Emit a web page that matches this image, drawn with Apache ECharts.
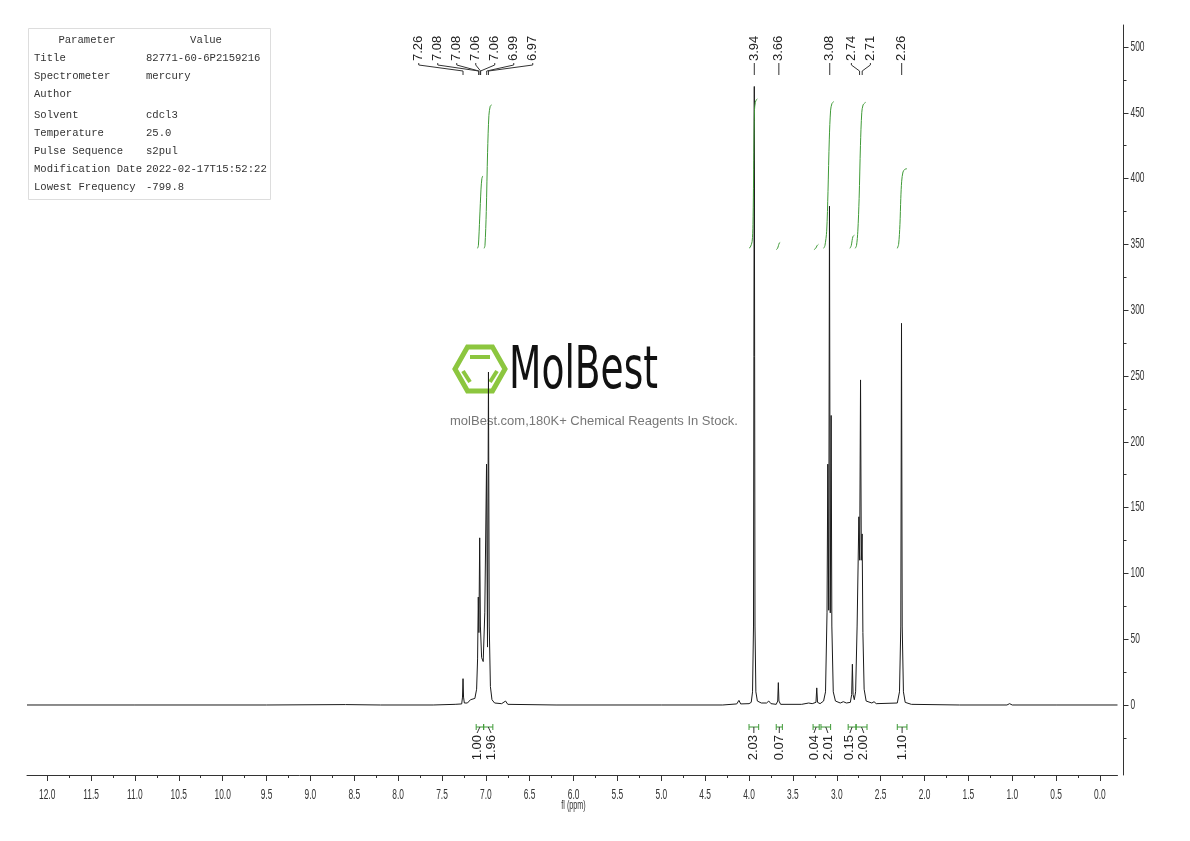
<!DOCTYPE html>
<html><head><meta charset="utf-8">
<script src="https://cdn.jsdelivr.net/npm/echarts@6/dist/echarts.min.js"></script>
<style>html,body{margin:0;padding:0;background:#fff}#c{width:1190px;height:841px}</style>
</head><body><div id="c"></div>
<script>
// ---------------- data ----------------
const spectrum = [
 [12.23,0],[11.0,0],[9.5,0],[8.6,0.3],[8.2,0],[7.6,0],[7.35,0.5],
 [7.275,0.8],[7.266,6],[7.26,20],[7.254,6],[7.245,1.5],
 [7.21,1.5],[7.175,4],[7.155,2.5],[7.125,5],
 [7.105,12],[7.094,35],[7.086,82],[7.079,55],[7.07,127],[7.062,60],[7.048,36],[7.03,33],
 [7.012,70],[6.992,183],[6.981,44],[6.97,253],[6.961,60],[6.948,14],[6.93,4],[6.9,1.5],[6.82,1],[6.775,3],[6.75,0.5],
 [6.2,0],[5.0,0],[4.3,0],[4.14,0.8],[4.115,3.5],[4.095,0.8],
 [4.0,1],[3.975,2],[3.96,10],[3.949,60],[3.94,470],[3.932,60],[3.922,10],[3.905,3],[3.86,1.5],[3.8,1.5],[3.775,3],[3.75,1],
 [3.69,0.5],[3.673,3],[3.666,17],[3.659,3],[3.64,0.5],
 [3.4,0.5],[3.32,1.5],[3.28,1],
 [3.237,2],[3.228,13],[3.219,2],[3.19,1],[3.15,3],
 [3.128,10],[3.111,70],[3.102,183],[3.092,72],[3.083,379],[3.074,70],[3.064,220],[3.056,60],[3.04,10],[3.015,3],
 [2.96,1.5],[2.925,2.5],[2.89,1.5],
 [2.845,2],[2.83,8],[2.822,31],[2.814,8],[2.8,4],[2.785,10],
 [2.768,60],[2.748,143],[2.739,110],[2.729,247],[2.72,110],[2.711,130],[2.702,55],[2.688,12],[2.665,3],[2.6,1.5],[2.575,2.5],[2.55,1],
 [2.31,1.5],[2.285,10],[2.27,60],[2.262,290],[2.254,60],[2.24,10],[2.22,2],[2.15,0.5],
 [1.6,0],[1.06,0],[1.03,1],[1.0,0],[0.5,0],[-0.2,0]
];

const peakLabels = [7.26, 7.08, 7.08, 7.06, 7.06, 6.99, 6.97, 3.94, 3.66, 3.08, 2.74, 2.71, 2.26];

const integralValues = ['1.00','1.96','2.03','0.07','0.04','2.01','0.15','2.00','1.10'];
const integralRanges = [[7.11,7.025],[7.025,6.92],[4.00,3.89],[3.69,3.62],[3.27,3.20],[3.18,3.07],[2.87,2.78],[2.78,2.655],[2.31,2.20]];

const integralCurves = [
 [[7.095,347],[7.085,349],[7.07,370],[7.055,392],[7.045,400],[7.035,402]],
 [[7.02,347],[7.01,349],[6.995,375],[6.98,420],[6.965,448],[6.95,455],[6.935,456]],
 [[4.0,347],[3.985,348],[3.965,352],[3.955,365],[3.945,420],[3.938,452],[3.928,458],[3.915,460],[3.905,460.5]],
 [[3.69,346],[3.675,347],[3.665,349],[3.655,351],[3.645,351.5]],
 [[3.26,346],[3.24,347],[3.225,349],[3.21,350]],
 [[3.15,347],[3.135,349],[3.115,360],[3.1,390],[3.085,430],[3.07,452],[3.055,457],[3.035,458.5]],
 [[2.85,347],[2.835,349],[2.825,353],[2.815,356],[2.80,357]],
 [[2.79,347],[2.775,349],[2.76,360],[2.745,385],[2.73,425],[2.715,450],[2.7,456],[2.67,458]],
 [[2.31,347],[2.295,350],[2.28,365],[2.27,385],[2.26,398],[2.245,405],[2.225,407],[2.2,407.5]]
];

const xTicks = [0,0.5,1,1.5,2,2.5,3,3.5,4,4.5,5,5.5,6,6.5,7,7.5,8,8.5,9,9.5,10,10.5,11,11.5,12];
const xTickLabels = ['0.0','0.5','1.0','1.5','2.0','2.5','3.0','3.5','4.0','4.5','5.0','5.5','6.0','6.5','7.0','7.5','8.0','8.5','9.0','9.5','10.0','10.5','11.0','11.5','12.0'];
const xMinorTicks = [0.25,0.75,1.25,1.75,2.25,2.75,3.25,3.75,4.25,4.75,5.25,5.75,6.25,6.75,7.25,7.75,8.25,8.75,9.25,9.75,10.25,10.75,11.25,11.75,12.25];
const yTicks = [0,50,100,150,200,250,300,350,400,450,500];
const yTickLabels = ['0','50','100','150','200','250','300','350','400','450','500'];
const yMinorTicks = [-25,25,75,125,175,225,275,325,375,425,475];

const paramNames = ['Title','Spectrometer','Author','Solvent','Temperature','Pulse Sequence','Modification Date','Lowest Frequency'];
const paramValues = ['82771-60-6P2159216','mercury','','cdcl3','25.0','s2pul','2022-02-17T15:52:22','-799.8'];

// ---------------- chart ----------------
const GREEN = '#3f9a37';
const AX = '#333';
const X_MIN = -0.2, X_MAX = 12.23, Y_MIN = -53.2, Y_MAX = 516.7;

const chart = echarts.init(document.getElementById('c'), null, {renderer: 'canvas'});

const series = [{
  type: 'line', data: spectrum, showSymbol: false, silent: true, animation: false,
  lineStyle: {color: '#1a1a1a', width: 1}, z: 3, xAxisIndex: 0, yAxisIndex: 0
}];
integralCurves.forEach(c => series.push({
  type: 'line', data: c, showSymbol: false, silent: true, animation: false, smooth: 0.3,
  lineStyle: {color: GREEN, width: 1}, z: 4, xAxisIndex: 0, yAxisIndex: 0
}));

const option = {
  animation: false,
  grid: {left: 27, right: 72.5, top: 25, bottom: 66},
  xAxis: [{
    type: 'value', min: X_MIN, max: X_MAX, inverse: true, position: 'bottom',
    axisLine: {show: true, onZero: false, lineStyle: {color: AX, width: 1}},
    axisTick: {show: true, inside: false, length: 6, customValues: xTicks, lineStyle: {color: AX}},
    axisLabel: {show: false},
    splitLine: {show: false}
  }, {
    type: 'value', min: X_MIN, max: X_MAX, inverse: true, position: 'bottom',
    axisLine: {show: false, onZero: false},
    axisTick: {show: true, inside: false, length: 3, customValues: xMinorTicks, lineStyle: {color: AX}},
    axisLabel: {show: false}, splitLine: {show: false}
  }],
  yAxis: [{
    type: 'value', min: Y_MIN, max: Y_MAX, position: 'right', offset: 6,
    axisLine: {show: true, onZero: false, lineStyle: {color: AX, width: 1}},
    axisTick: {show: true, inside: false, length: 5, customValues: yTicks, lineStyle: {color: AX}},
    axisLabel: {show: false},
    splitLine: {show: false}
  }, {
    type: 'value', min: Y_MIN, max: Y_MAX, position: 'right', offset: 6,
    axisLine: {show: false, onZero: false},
    axisTick: {show: true, inside: false, length: 3, customValues: yMinorTicks, lineStyle: {color: AX}},
    axisLabel: {show: false}, splitLine: {show: false}
  }],
  series: series
};
chart.setOption(option);

// ---------------- annotations (positioned through the axes) ----------------
function px(ppm, v) { return chart.convertToPixel({xAxisIndex: 0, yAxisIndex: 0}, [ppm, v]); }

function spread(xs, gap) {
  let groups = xs.map((x, i) => ({idx: [i], src: [x]}));
  const place = g => {
    const c = (Math.min(...g.src) + Math.max(...g.src)) / 2, n = g.idx.length;
    return g.idx.map((_, k) => c + (k - (n - 1) / 2) * gap);
  };
  let changed = true;
  while (changed) {
    changed = false;
    for (let i = 0; i < groups.length - 1; i++) {
      const a = place(groups[i]), b = place(groups[i + 1]);
      if (b[0] - a[a.length - 1] < gap - 0.01) {
        groups[i] = {idx: groups[i].idx.concat(groups[i + 1].idx), src: groups[i].src.concat(groups[i + 1].src)};
        groups.splice(i + 1, 1);
        changed = true; break;
      }
    }
  }
  const out = [];
  groups.forEach(g => place(g).forEach((p, k) => out[g.idx[k]] = p));
  return out;
}

const graphics = [];
const NARROW = '14px "Liberation Sans", Arial, sans-serif';

// axis tick labels (narrow, condensed look)
const axisBottomY = px(0, Y_MIN)[1];
xTicks.forEach((v, i) => {
  graphics.push({type: 'text', z: 12, silent: true, x: px(v, 0)[0], y: axisBottomY + 20, scaleX: 0.6,
    style: {text: xTickLabels[i], font: NARROW, fill: '#333', align: 'center', verticalAlign: 'middle'}});
});
graphics.push({type: 'text', z: 12, silent: true, x: px(6.0, 0)[0], y: axisBottomY + 31, scaleX: 0.6,
  style: {text: 'fl (ppm)', font: '12px "Liberation Sans", Arial, sans-serif', fill: '#333', align: 'center', verticalAlign: 'middle'}});
const yAxisX = px(X_MIN, 0)[0] + 6;
yTicks.forEach((v, i) => {
  graphics.push({type: 'text', z: 12, silent: true, x: yAxisX + 7, y: px(0, v)[1], scaleX: 0.6,
    style: {text: yTickLabels[i], font: NARROW, fill: '#333', align: 'left', verticalAlign: 'middle'}});
});

// watermark (behind the spectrum)
const hx = 480, hy = 369;
graphics.push({type: 'polygon', z: 0, silent: true,
  shape: {points: [[hx - 25, hy], [hx - 12.5, hy - 22], [hx + 12.5, hy - 22], [hx + 25, hy], [hx + 12.5, hy + 22], [hx - 12.5, hy + 22]]},
  style: {fill: 'none', stroke: '#8cc63f', lineWidth: 5}});
graphics.push({type: 'line', z: 0, silent: true, shape: {x1: hx - 10, y1: hy - 12, x2: hx + 10, y2: hy - 12}, style: {stroke: '#8cc63f', lineWidth: 4}});
graphics.push({type: 'line', z: 0, silent: true, shape: {x1: hx - 17, y1: hy + 2, x2: hx - 10, y2: hy + 13}, style: {stroke: '#8cc63f', lineWidth: 4}});
graphics.push({type: 'line', z: 0, silent: true, shape: {x1: hx + 17, y1: hy + 2, x2: hx + 10, y2: hy + 13}, style: {stroke: '#8cc63f', lineWidth: 4}});
graphics.push({type: 'text', z: 0, silent: true, x: 509, y: 373, scaleX: 0.72,
  style: {text: 'MolBest', font: '58px "DejaVu Sans Condensed", sans-serif', fill: '#111', align: 'left', verticalAlign: 'middle'}});
graphics.push({type: 'text', z: 0, silent: true, x: 594, y: 421,
  style: {text: 'molBest.com,180K+ Chemical Reagents In Stock.', font: '13px "Liberation Sans", Arial, sans-serif', fill: '#777', align: 'center', verticalAlign: 'middle'}});

// parameter table
graphics.push({type: 'rect', z: 10, silent: true, shape: {x: 28.5, y: 28.5, width: 242, height: 171},
  style: {fill: '#fff', stroke: '#ddd', lineWidth: 1}});
const TF = '10.6px "Liberation Mono", "Courier New", monospace';
graphics.push({type: 'text', z: 11, silent: true, x: 87, y: 40, style: {text: 'Parameter', font: TF, fill: '#333', align: 'center', verticalAlign: 'middle'}});
graphics.push({type: 'text', z: 11, silent: true, x: 206, y: 40, style: {text: 'Value', font: TF, fill: '#333', align: 'center', verticalAlign: 'middle'}});
const rowY = [58, 76, 94, 115, 133, 151, 169, 187];
paramNames.forEach((n, i) => {
  graphics.push({type: 'text', z: 11, silent: true, x: 34, y: rowY[i], style: {text: n, font: TF, fill: '#333', align: 'left', verticalAlign: 'middle'}});
  graphics.push({type: 'text', z: 11, silent: true, x: 146, y: rowY[i], style: {text: paramValues[i], font: TF, fill: '#333', align: 'left', verticalAlign: 'middle'}});
});

// peak labels at top
const LF = '13px "Liberation Sans", Arial, sans-serif';
const peakX = peakLabels.map(p => px(p, 0)[0]);
const peakLabX = spread(peakX, 19);
peakLabels.forEach((p, i) => {
  const lx = peakLabX[i], tx = peakX[i];
  graphics.push({type: 'text', z: 12, silent: true, x: lx, y: 61, rotation: Math.PI / 2,
    style: {text: p.toFixed(2), font: LF, fill: '#222', align: 'left', verticalAlign: 'middle'}});
  const pts = Math.abs(lx - tx) < 0.5 ? [[lx, 63], [lx, 75]] : [[lx, 63], [lx, 65], [tx, 71], [tx, 75]];
  graphics.push({type: 'polyline', z: 12, silent: true, shape: {points: pts}, style: {stroke: '#333', lineWidth: 1, fill: 'none'}});
});

// integration brackets and labels at bottom
const BY = 727;
const brCenters = integralRanges.map(r => (px(r[0], 0)[0] + px(r[1], 0)[0]) / 2);
const intLabX = spread(brCenters, 14);
integralRanges.forEach((r, i) => {
  const x1 = px(r[0], 0)[0], x2 = px(r[1], 0)[0];
  graphics.push({type: 'line', z: 12, silent: true, shape: {x1: x1, y1: BY, x2: x2, y2: BY}, style: {stroke: GREEN, lineWidth: 1}});
  graphics.push({type: 'line', z: 12, silent: true, shape: {x1: x1, y1: BY - 3, x2: x1, y2: BY + 3}, style: {stroke: GREEN, lineWidth: 1}});
  graphics.push({type: 'line', z: 12, silent: true, shape: {x1: x2, y1: BY - 3, x2: x2, y2: BY + 3}, style: {stroke: GREEN, lineWidth: 1}});
  const cx = brCenters[i], lx = intLabX[i];
  graphics.push({type: 'polyline', z: 12, silent: true, shape: {points: [[cx, BY], [lx, 733]]}, style: {stroke: '#333', lineWidth: 1, fill: 'none'}});
  graphics.push({type: 'text', z: 12, silent: true, x: lx, y: 735, rotation: Math.PI / 2,
    style: {text: integralValues[i], font: LF, fill: '#222', align: 'right', verticalAlign: 'middle'}});
});

chart.setOption({graphic: graphics});
</script>
</body></html>
